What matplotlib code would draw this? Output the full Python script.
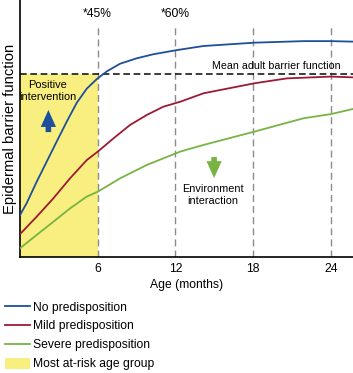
import numpy as np
import matplotlib
matplotlib.use('Agg')
import matplotlib.pyplot as plt
from matplotlib.lines import Line2D
from matplotlib.patches import Patch, Rectangle

plt.rcParams['font.family'] = ['Liberation Sans', 'DejaVu Sans']

# values (arbitrary barrier-function units, 0 = axis bottom)
blue_x = [0, 0.51, 1.29, 2.06, 2.83, 3.60, 4.38, 5.15, 5.92, 6.69, 7.72, 9.0, 10.3,
          12.1, 14.16, 18.1, 21.9, 24.0, 25.7]
blue_y = [0.163, 0.209, 0.293, 0.371, 0.449, 0.526, 0.600, 0.655, 0.692, 0.722, 0.752,
          0.773, 0.789, 0.805, 0.821, 0.834, 0.840, 0.840, 0.838]

red_x = [0, 1.29, 2.57, 3.86, 5.15, 6.0, 7.2, 8.5, 9.8, 11.07, 12.36, 14.16, 18.1,
         20.6, 24.0, 25.7]
red_y = [0.089, 0.157, 0.228, 0.306, 0.377, 0.410, 0.461, 0.514, 0.553, 0.585, 0.604,
         0.637, 0.676, 0.695, 0.702, 0.699]

green_x = [0, 1.29, 2.57, 3.86, 5.15, 6.0, 7.72, 9.78, 11.07, 12.36, 14.16, 18.1,
           21.9, 24.0, 25.7]
green_y = [0.034, 0.086, 0.137, 0.189, 0.235, 0.254, 0.306, 0.358, 0.384, 0.410, 0.436,
           0.488, 0.540, 0.556, 0.576]

adult_mean = 0.712
guide_months = [6, 12, 18, 24]
guide_labels = {6: '*45%', 12: '*60%'}
risk_window = (0, 6)

labels = ['No predisposition', 'Mild predisposition', 'Severe predisposition',
          'Most at-risk age group']
c_blue, c_red, c_green = '#1d4f9c', '#9c1b34', '#77b443'
c_yellow = '#f9ef80'
fs = 8.7

fig = plt.figure(figsize=(3.53, 3.73), dpi=100)
ax = fig.add_axes([20 / 353, 1 - 257 / 373, 1 - 20 / 353, 257 / 373])
ax.set_xlim(0, 25.7)
ax.set_ylim(0, 1)

ax.add_patch(Rectangle((risk_window[0], 0), risk_window[1] - risk_window[0], adult_mean,
                       facecolor=c_yellow, edgecolor='none', zorder=0))

for m in guide_months:
    ax.plot([m, m], [0, 0.903], color='#8c8c8c', lw=1.0, ls=(0, (5, 3)), zorder=1)
    if m in guide_labels:
        ax.text(m, 0.945, guide_labels[m], ha='center', va='center', fontsize=fs)

ax.axhline(adult_mean, color='#1a1a1a', lw=1.2, ls=(0, (4, 2.2)), zorder=2)
ax.text(19.8, 0.742, 'Mean adult barrier function', ha='center', va='center', fontsize=7.7)

ax.plot(blue_x, blue_y, color=c_blue, lw=1.3, zorder=3)
ax.plot(red_x, red_y, color=c_red, lw=1.3, zorder=3)
ax.plot(green_x, green_y, color=c_green, lw=1.3, zorder=3)

arrow = 'simple,head_width=0.9,head_length=1.0,tail_width=0.33'
ax.text(2.16, 0.646, 'Positive\nintervention', ha='center', va='center', fontsize=7.9,
        linespacing=1.2)
ax.annotate('', xy=(2.19, 0.572), xytext=(2.19, 0.486),
            arrowprops=dict(arrowstyle=arrow, color=c_blue, lw=0, mutation_scale=12.2,
                            shrinkA=0, shrinkB=0))
ax.annotate('', xy=(14.98, 0.307), xytext=(14.98, 0.389),
            arrowprops=dict(arrowstyle=arrow, color=c_green, lw=0, mutation_scale=12.2,
                            shrinkA=0, shrinkB=0))
ax.text(14.86, 0.241, 'Environment\ninteraction', ha='center', va='center', fontsize=7.8,
        linespacing=1.2)

for s in ['top', 'right']:
    ax.spines[s].set_visible(False)
ax.spines['left'].set_linewidth(1.2)
ax.spines['bottom'].set_linewidth(1.2)
ax.set_xticks(guide_months)
ax.set_xticklabels([str(m) for m in guide_months], fontsize=fs)
ax.set_yticks([])
ax.tick_params(axis='x', length=0, pad=4)
ax.set_xlabel('Age (months)', fontsize=fs, labelpad=3)
ax.set_ylabel('Epidermal barrier function', fontsize=10.6, labelpad=2)

handles = [Line2D([], [], color=c_blue, lw=1.3),
           Line2D([], [], color=c_red, lw=1.3),
           Line2D([], [], color=c_green, lw=1.3),
           Patch(facecolor=c_yellow, edgecolor='none')]
fig.legend(handles, labels, loc='upper left', bbox_to_anchor=(0.014, 1 - 301 / 373),
           frameon=False, fontsize=fs, handlelength=2.07, handleheight=1.0,
           handletextpad=0.25, labelspacing=0.53, borderpad=0, borderaxespad=0)

fig.savefig('out.png', dpi=100)
